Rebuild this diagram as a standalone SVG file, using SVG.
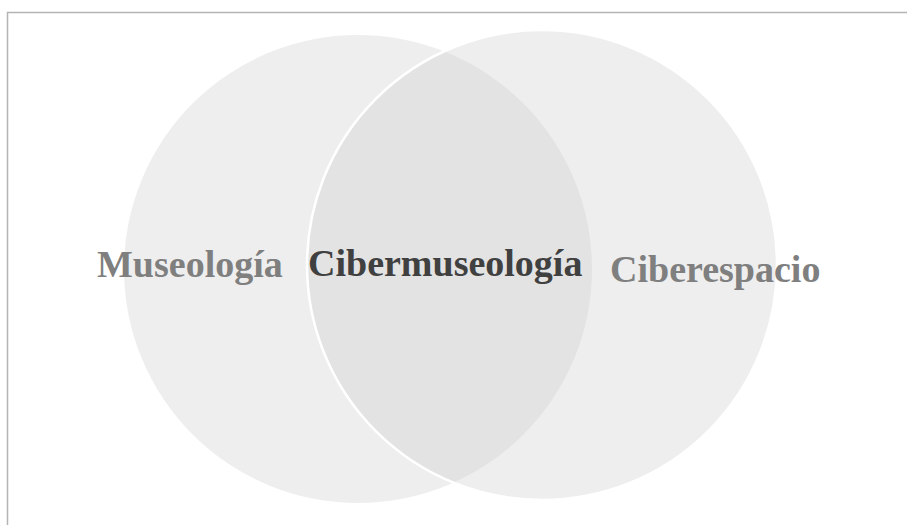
<svg xmlns="http://www.w3.org/2000/svg" width="907" height="525" viewBox="0 0 907 525">
  <style>
    .set { fill: rgb(207,207,207); fill-opacity: 0.353; }
    .label { font-family: "Liberation Serif", "Times New Roman", serif; font-weight: bold; font-size: 38px; }
    .outer { fill: #7f7f7f; }
    .inner { fill: #404040; }
  </style>
  <rect width="907" height="525" fill="#ffffff"/>
  <!-- frame: top and left edges -->
  <path d="M7.5 525 V12.5 H907" fill="none" stroke="#b4b4b4" stroke-width="1.5"/>
  <g id="museologia">
    <circle class="set" cx="358" cy="269" r="234"/>
    <text class="label outer" x="97" y="277">Museología</text>
  </g>
  <g id="ciberespacio">
    <circle class="set" cx="542" cy="265" r="235" stroke="#ffffff" stroke-width="2.5"/>
    <text class="label outer" x="610" y="282">Ciberespacio</text>
  </g>
  <g id="cibermuseologia">
    <text class="label inner" x="308" y="276">Cibermuseología</text>
  </g>
  <g id="connectors"></g>
</svg>
